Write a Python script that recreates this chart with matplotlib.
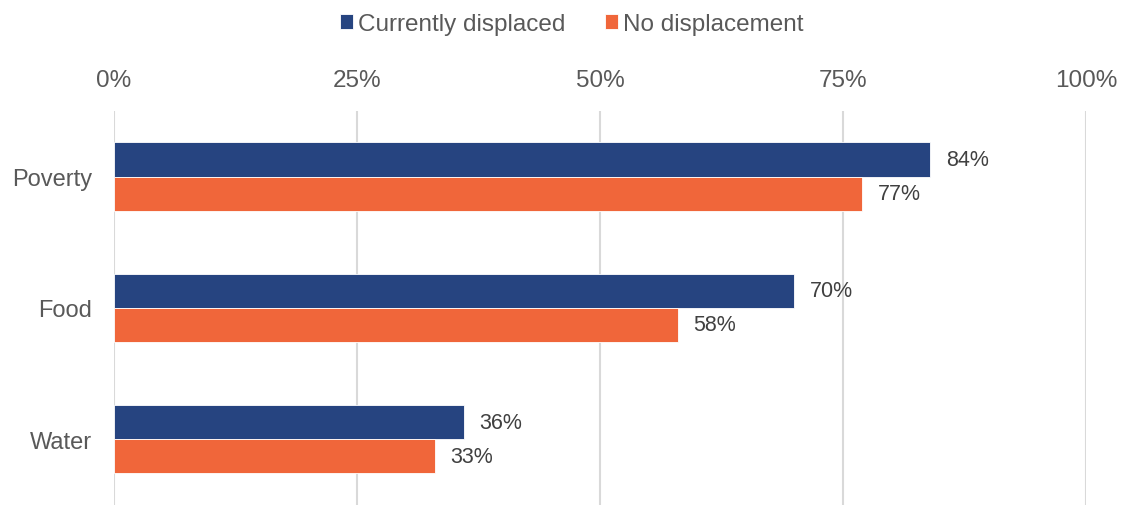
import numpy as np
import matplotlib.pyplot as plt
from matplotlib.ticker import PercentFormatter

plt.rcParams['font.family'] = ['Liberation Sans', 'DejaVu Sans']

categories = ['Poverty', 'Food', 'Water']
displaced = [84, 70, 36]
no_displacement = [77, 58, 33]
series_names = ['Currently displaced', 'No displacement']

blue = '#264480'
orange = '#F0663A'

fig = plt.figure(figsize=(11.21, 5.06), dpi=100)
ax = fig.add_axes([0.1017, 0.0, 0.867, 0.779])

y = np.arange(len(categories))
h = 0.26
b1 = ax.barh(y - h / 2, displaced, height=h, color=blue, edgecolor='white',
             linewidth=0.6, label=series_names[0], zorder=3)
b2 = ax.barh(y + h / 2, no_displacement, height=h, color=orange, edgecolor='white',
             linewidth=0.6, label=series_names[1], zorder=3)

for bars, vals in ((b1, displaced), (b2, no_displacement)):
    for bar, v in zip(bars, vals):
        ax.text(v + 1.6, bar.get_y() + bar.get_height() / 2, f'{v}%',
                va='center', ha='left', fontsize=15.5, color='#404040')

ax.set_xlim(0, 100)
ax.set_ylim(2.5, -0.5)
ax.set_xticks([0, 25, 50, 75, 100])
ax.xaxis.set_major_formatter(PercentFormatter(decimals=0))
ax.xaxis.tick_top()
ax.tick_params(axis='x', length=0, pad=14, labelsize=17.5, labelcolor='#595959')
ax.set_yticks(y)
ax.set_yticklabels(categories)
ax.tick_params(axis='y', length=0, pad=16, labelsize=17, labelcolor='#595959')
ax.grid(axis='x', color='#d9d9d9', linewidth=1.5, zorder=0)
for s in ax.spines.values():
    s.set_visible(False)

fig.legend(handles=[b1, b2], loc='upper center', bbox_to_anchor=(0.51, 1.015),
           ncol=2, frameon=False, fontsize=17.5, handlelength=0.55, handleheight=0.55,
           handletextpad=0.2, columnspacing=1.6, labelcolor='#595959')

fig.savefig('out.png', dpi=100)
